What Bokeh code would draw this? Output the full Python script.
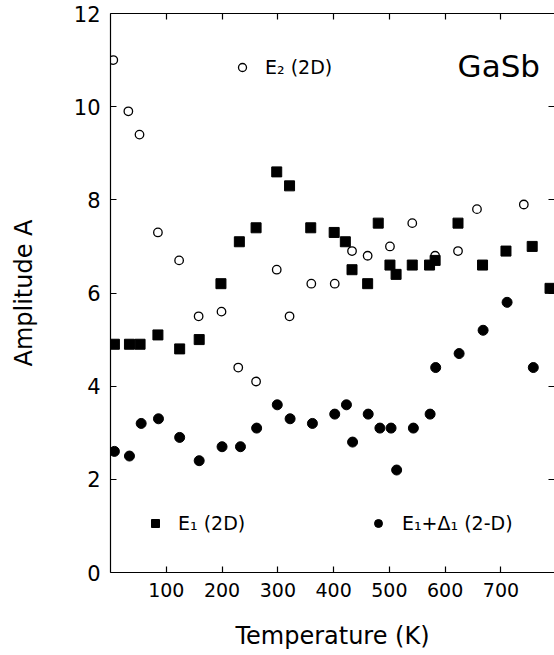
from bokeh.plotting import figure
from bokeh.models import (ColumnDataSource, LinearAxis, FixedTicker, Range1d,
                          Legend, LegendItem, Label)
from bokeh.embed import file_html
from bokeh.resources import INLINE

# ---- data ----
e2_T = [5, 32, 52, 85, 123, 158, 199, 229, 261, 298, 321, 360, 402, 433, 461,
        501, 541, 582, 623, 657, 741]
e2_A = [11.0, 9.9, 9.4, 7.3, 6.7, 5.5, 5.6, 4.4, 4.1, 6.5, 5.5, 6.2, 6.2, 6.9,
        6.8, 7.0, 7.5, 6.8, 6.9, 7.8, 7.9]

e1_T = [7, 34, 53, 85, 124, 159, 198, 231, 261, 298, 321, 359, 401, 421, 433,
        461, 480, 501, 512, 541, 572, 582, 623, 667, 709, 756, 788]
e1_A = [4.9, 4.9, 4.9, 5.1, 4.8, 5.0, 6.2, 7.1, 7.4, 8.6, 8.3, 7.4, 7.3, 7.1,
        6.5, 6.2, 7.5, 6.6, 6.4, 6.6, 6.6, 6.7, 7.5, 6.6, 6.9, 7.0, 6.1]

e1d_T = [7, 34, 55, 86, 124, 159, 200, 233, 262, 299, 322, 362, 402, 423, 434,
         462, 483, 503, 513, 543, 573, 583, 625, 668, 711, 758]
e1d_A = [2.6, 2.5, 3.2, 3.3, 2.9, 2.4, 2.7, 2.7, 3.1, 3.6, 3.3, 3.2, 3.4, 3.6,
         2.8, 3.4, 3.1, 3.1, 2.2, 3.1, 3.4, 4.4, 4.7, 5.2, 5.8, 4.4]

x_ticks = [100, 200, 300, 400, 500, 600, 700]
y_ticks = [0, 2, 4, 6, 8, 10, 12]

FONT = "DejaVu Sans"

p = figure(width=554, height=652, output_backend="svg", toolbar_location=None,
           x_range=Range1d(0, 796), y_range=Range1d(0, 12),
           min_border_left=110, min_border_top=13, min_border_right=0,
           min_border_bottom=79, x_axis_location=None, y_axis_location=None)
p.outline_line_color = None
p.grid.visible = False
p.background_fill_color = "white"
p.border_fill_color = "white"

def style_axis(ax, ticks, show_labels, font_size):
    ax.ticker = FixedTicker(ticks=ticks)
    ax.minor_tick_line_color = None
    ax.major_tick_in = 6
    ax.major_tick_out = 0
    ax.axis_line_color = "black"
    ax.axis_line_width = 1.2
    ax.major_tick_line_color = "black"
    ax.major_tick_line_width = 1.2
    if show_labels:
        ax.major_label_text_font = FONT
        ax.major_label_text_font_size = font_size
        ax.major_label_text_color = "black"
    else:
        ax.major_label_overrides = {t: "" for t in ticks}
        ax.major_label_text_font_size = "1px"
        ax.major_label_standoff = 0

bottom = LinearAxis(axis_label="Temperature (K)")
style_axis(bottom, x_ticks, True, "19px")
bottom.major_label_standoff = 10
bottom.axis_label_text_font = FONT
bottom.axis_label_text_font_size = "24px"
bottom.axis_label_text_font_style = "normal"
bottom.axis_label_text_color = "black"
bottom.axis_label_standoff = 22
p.add_layout(bottom, "below")

left = LinearAxis(axis_label="Amplitude A")
style_axis(left, y_ticks, True, "21px")
left.major_label_standoff = 10
left.axis_label_text_font = FONT
left.axis_label_text_font_size = "24px"
left.axis_label_text_font_style = "normal"
left.axis_label_text_color = "black"
left.axis_label_standoff = 33
p.add_layout(left, "left")

top = LinearAxis()
style_axis(top, x_ticks, False, "0px")
p.add_layout(top, "above")

right = LinearAxis()
style_axis(right, y_ticks, False, "0px")
right.axis_line_color = None
p.add_layout(right, "right")

src_e2 = ColumnDataSource(dict(x=e2_T, y=e2_A))
src_e1 = ColumnDataSource(dict(x=e1_T, y=e1_A))
src_e1d = ColumnDataSource(dict(x=e1d_T, y=e1d_A))

r_e2 = p.scatter("x", "y", source=src_e2, marker="circle", size=8.5,
                 fill_color="white", line_color="black", line_width=1.3)
r_e1 = p.scatter("x", "y", source=src_e1, marker="square", size=10,
                 fill_color="black", line_color="black")
r_e1d = p.scatter("x", "y", source=src_e1d, marker="circle", size=10,
                  fill_color="black", line_color="black")

def make_legend(label, renderer, loc, standoff):
    lg = Legend(items=[LegendItem(label=label, renderers=[renderer])],
                location=loc, padding=0, margin=0, spacing=0,
                glyph_width=20, glyph_height=20, label_height=20,
                label_standoff=standoff, border_line_color=None,
                background_fill_alpha=0, label_text_font=FONT,
                label_text_font_size="19px", label_text_color="black")
    p.add_layout(lg, "center")

make_legend("E\u2082 (2D)", r_e2, (122, 494), 13)
make_legend("E\u2081 (2D)", r_e1, (35, 38), 13)
make_legend("E\u2081+\u0394\u2081 (2-D)", r_e1d, (258, 38), 14)

p.add_layout(Label(x=770, y=10.88, text="GaSb", text_align="right",
                   text_baseline="alphabetic", text_font=FONT,
                   text_font_size="31px", text_color="black"))

open("out.html", "w").write(file_html(p, INLINE))
